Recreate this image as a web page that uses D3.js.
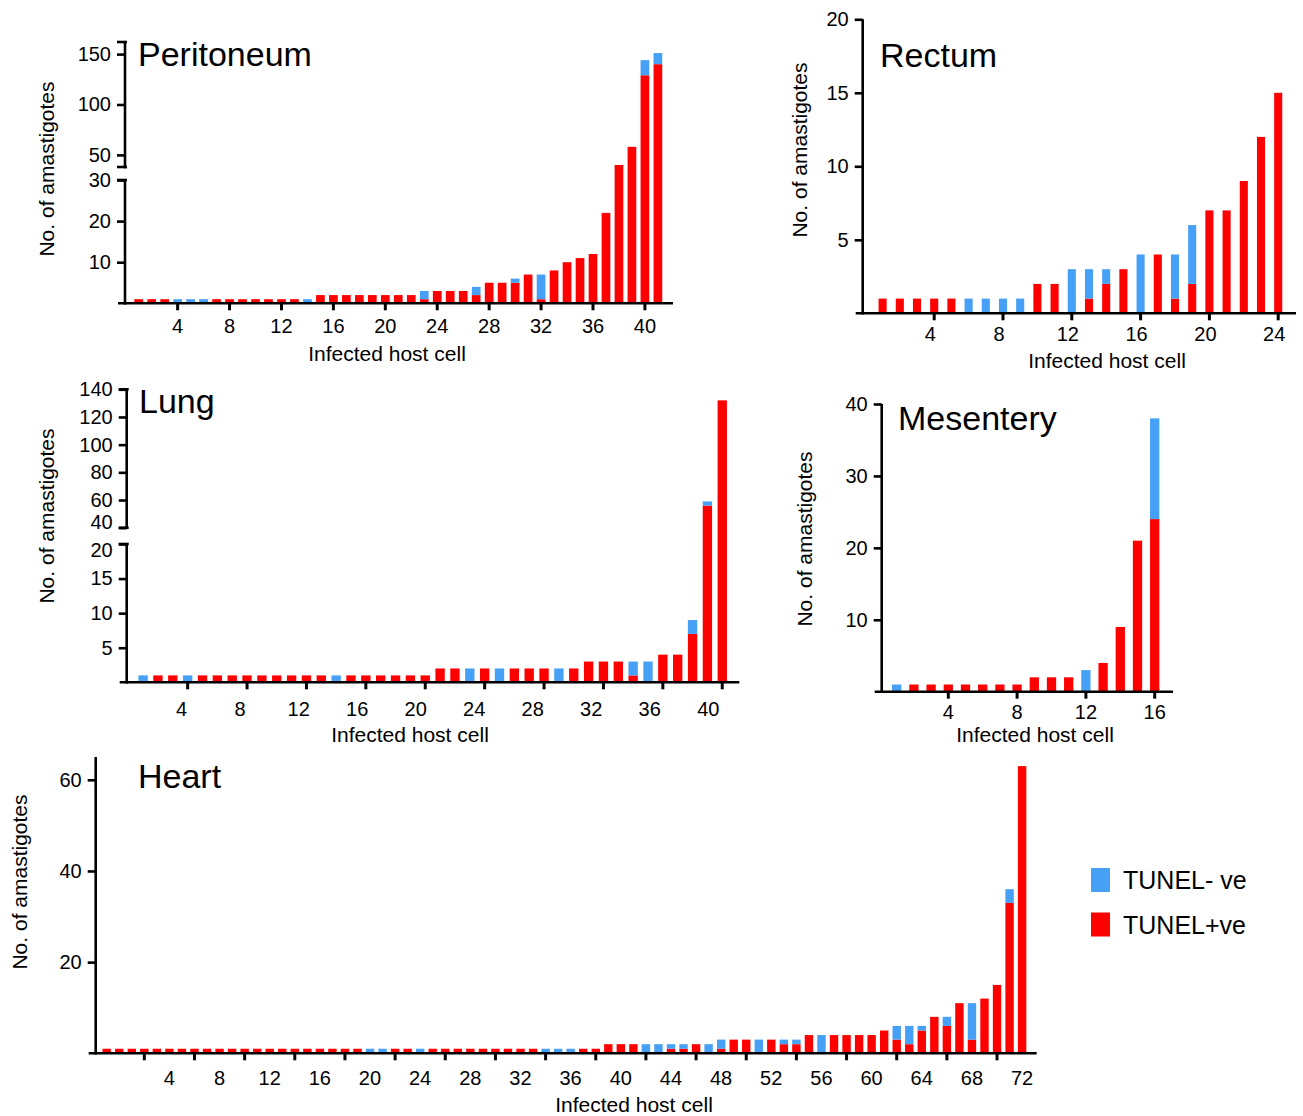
<!DOCTYPE html>
<html>
<head>
<meta charset="utf-8">
<script src="https://cdn.jsdelivr.net/npm/d3@7"></script>
<style>
  body { margin: 0; background: #fff; }
  svg { display: block; font-family: "Liberation Sans", Arial, sans-serif; }
</style>
</head>
<body>
<div id="chart"></div>
<script>
// TUNEL+ve (red) and TUNEL- ve (blue) amastigote counts per infected host cell
const periPos = [1,1,1,0,0,0,1,1,1,1,1,1,1,0,2,2,2,2,2,2,2,2,1,3,3,3,2,5,5,5,7,1,8,10,11,12,22,40,58,129,140];
const periNeg = [0,0,0,1,1,1,0,0,0,0,0,0,0,1,0,0,0,0,0,0,0,0,2,0,0,0,2,0,0,1,0,6,0,0,0,0,0,0,0,15,11];

const rectPos = [1,1,1,1,1,0,0,0,0,2,2,0,1,2,3,0,4,1,2,7,7,9,12,15];
const rectNeg = [0,0,0,0,0,1,1,1,1,0,0,3,2,1,0,4,0,3,4,0,0,0,0,0];

const lungPos = [0,1,1,0,1,1,1,1,1,1,1,1,1,0,1,1,1,1,1,1,2,2,0,2,0,2,2,2,0,2,3,3,3,1,0,4,4,7,56,132];
const lungNeg = [1,0,0,1,0,0,0,0,0,0,0,0,0,1,0,0,0,0,0,0,0,0,2,0,2,0,0,0,2,0,0,0,0,2,3,0,0,2,3,0];

const mesPos = [0,1,1,1,1,1,1,1,2,2,2,0,4,9,21,24];
const mesNeg = [1,0,0,0,0,0,0,0,0,0,0,3,0,0,0,14];

const heartPos = [1,1,1,1,1,1,1,1,1,1,1,1,1,1,1,1,1,1,1,1,1,0,0,1,1,0,1,1,1,1,1,1,1,1,1,0,0,0,1,1,
                  2,2,2,0,0,1,1,2,0,1,3,3,0,3,2,2,4,0,4,4,4,4,5,3,2,5,8,6,11,3,12,15,33,63];
const heartNeg = [0,0,0,0,0,0,0,0,0,0,0,0,0,0,0,0,0,0,0,0,0,1,1,0,0,1,0,0,0,0,0,0,0,0,0,1,1,1,0,0,
                  0,0,0,2,2,1,1,0,2,2,0,0,3,0,1,1,0,4,0,0,0,0,0,3,4,1,0,2,0,8,0,0,3,0];

// tick labels
const periYTicks = [10, 20, 30, 50, 100, 150];
const periXTicks = [4, 8, 12, 16, 20, 24, 28, 32, 36, 40];
const rectYTicks = [5, 10, 15, 20];
const rectXTicks = [4, 8, 12, 16, 20, 24];
const lungYTicks = [5, 10, 15, 20, 40, 60, 80, 100, 120, 140];
const lungXTicks = [4, 8, 12, 16, 20, 24, 28, 32, 36, 40];
const mesYTicks = [10, 20, 30, 40];
const mesXTicks = [4, 8, 12, 16];
const heartYTicks = [20, 40, 60];
const heartXTicks = [4, 8, 12, 16, 20, 24, 28, 32, 36, 40, 44, 48, 52, 56, 60, 64, 68, 72];

const legendKeys = ["neg", "pos"];
const legendNames = {neg: "TUNEL- ve", pos: "TUNEL+ve"};

const color = {pos: "#ff0000", neg: "#46a0f5"};
const AX = 2.6;

const svg = d3.select("#chart").append("svg")
    .attr("width", 1303)
    .attr("height", 1116);

function drawPanel(p) {
    const g = svg.append("g");
    const n = p.pos.length;
    const cells = d3.range(1, n + 1);
    const pad = 1 - p.ratio;

    const x = d3.scaleBand()
        .domain(cells)
        .range([p.first - p.step / 2, p.first + (n - 0.5) * p.step])
        .paddingInner(pad)
        .paddingOuter(pad / 2);
    const y = d3.scaleLinear().domain(p.yDomain).range(p.yRange);

    const rows = cells.map((c, i) => ({cell: c, pos: p.pos[i], neg: p.neg[i]}));
    const series = d3.stack().keys(["pos", "neg"])(rows);

    // bars
    g.append("g")
        .selectAll("g")
        .data(series)
        .join("g")
        .attr("fill", d => color[d.key])
        .selectAll("rect")
        .data(d => d.filter(e => e[1] > e[0]))
        .join("rect")
        .attr("x", d => x(d.data.cell))
        .attr("width", x.bandwidth())
        .attr("y", d => y(d[1]))
        .attr("height", d => y(d[0]) - y(d[1]));

    // x axis
    const base = y(0);
    const xa = g.append("g")
        .attr("transform", `translate(0,${base})`)
        .call(d3.axisBottom(x).tickValues(p.xTicks).tickSize(7).tickSizeOuter(0));
    xa.select(".domain").remove();
    xa.selectAll(".tick line").attr("stroke", "#000").attr("stroke-width", 3);
    xa.selectAll(".tick text")
        .attr("y", p.labelOff)
        .attr("dy", 0)
        .attr("dx", d => p.labelDx(d))
        .attr("fill", "#000")
        .style("font-size", "20px")
        .style("font-family", "'Liberation Sans', Arial, sans-serif");
    g.append("line")
        .attr("x1", p.axisX - 7).attr("x2", p.xEnd)
        .attr("y1", base).attr("y2", base)
        .attr("stroke", "#000").attr("stroke-width", AX);

    // y axis (possibly broken)
    const ya = g.append("g")
        .attr("transform", `translate(${p.axisX},0)`)
        .call(d3.axisLeft(y).tickValues(p.yTicks).tickSize(8).tickPadding(6).tickSizeOuter(0));
    ya.select(".domain").remove();
    ya.selectAll(".tick line").attr("stroke", "#000").attr("stroke-width", AX);
    ya.selectAll(".tick text")
        .attr("fill", "#000")
        .attr("dy", d => (p.yNudge && p.yNudge[d] !== undefined) ? p.yNudge[d] : "0.32em")
        .style("font-size", "20px")
        .style("font-family", "'Liberation Sans', Arial, sans-serif");
    p.segments.forEach(s => {
        g.append("line")
            .attr("x1", p.axisX).attr("x2", p.axisX)
            .attr("y1", y(s[0]) + AX / 2).attr("y2", y(s[1]))
            .attr("stroke", "#000").attr("stroke-width", AX);
        if (p.segments.length > 1) {
            s.filter(v => v > 0).forEach(v => {
                g.append("line")
                    .attr("x1", p.axisX - 8).attr("x2", p.axisX + 2)
                    .attr("y1", y(v)).attr("y2", y(v))
                    .attr("stroke", "#000").attr("stroke-width", AX);
            });
        }
    });

    // title and axis titles
    g.append("text")
        .attr("x", p.title[1]).attr("y", p.title[2])
        .style("font-size", "34px")
        .text(p.title[0]);
    g.append("text")
        .attr("x", p.xLabel[0]).attr("y", p.xLabel[1])
        .attr("text-anchor", "middle")
        .style("font-size", "21px")
        .text("Infected host cell");
    g.append("text")
        .attr("transform", `translate(${p.yLabel[0]},${p.yLabel[1]}) rotate(-90)`)
        .attr("text-anchor", "middle")
        .attr("dy", "0.35em")
        .style("font-size", "21px")
        .text("No. of amastigotes");
}

drawPanel({
    pos: periPos, neg: periNeg, xTicks: periXTicks, yTicks: periYTicks,
    axisX: 125, xEnd: 673, first: 138.7, step: 12.98, ratio: 0.67,
    yDomain: [0, 30, 38, 162], yRange: [303.3, 180, 167, 42],
    segments: [[0, 30], [38, 162]],
    labelOff: 30, labelDx: () => 0,
    title: ["Peritoneum", 138, 66], xLabel: [387, 361], yLabel: [47, 169]
});

drawPanel({
    pos: rectPos, neg: rectNeg, xTicks: rectXTicks, yTicks: rectYTicks,
    axisX: 862.7, xEnd: 1296, first: 882.6, step: 17.2, ratio: 0.47,
    yDomain: [0, 20], yRange: [313.3, 19.3],
    segments: [[0, 20]],
    labelOff: 28, labelDx: () => -4,
    title: ["Rectum", 880, 67], xLabel: [1107, 368], yLabel: [800, 150]
});

drawPanel({
    pos: lungPos, neg: lungNeg, xTicks: lungXTicks, yTicks: lungYTicks,
    axisX: 126.7, xEnd: 739.3, first: 143.1, step: 14.85, ratio: 0.63,
    yDomain: [0, 20, 40, 140], yRange: [682.3, 544, 527.7, 389.3],
    segments: [[0, 20], [40, 140]],
    yNudge: {40: "0.05em", 20: "0.6em"},
    labelOff: 34, labelDx: d3.scaleLinear().domain([4, 40]).range([-6, -14]),
    title: ["Lung", 139, 413], xLabel: [410, 742], yLabel: [47, 516]
});

drawPanel({
    pos: mesPos, neg: mesNeg, xTicks: mesXTicks, yTicks: mesYTicks,
    axisX: 881.7, xEnd: 1173, first: 896.7, step: 17.2, ratio: 0.54,
    yDomain: [0, 40], yRange: [691.7, 404],
    segments: [[0, 40]],
    labelOff: 27, labelDx: () => 0,
    title: ["Mesentery", 898, 430], xLabel: [1035, 742], yLabel: [805, 539]
});

drawPanel({
    pos: heartPos, neg: heartNeg, xTicks: heartXTicks, yTicks: heartYTicks,
    axisX: 95.7, xEnd: 1036.7, first: 106.7, step: 12.54, ratio: 0.67,
    yDomain: [0, 65], yRange: [1053.3, 757],
    segments: [[0, 65]],
    labelOff: 32, labelDx: () => 25,
    title: ["Heart", 138, 788], xLabel: [634, 1112], yLabel: [20, 882]
});

// legend
const legend = svg.append("g")
    .selectAll("g")
    .data(legendKeys)
    .join("g")
    .attr("transform", (d, i) => `translate(1091,${868 + i * 44.5})`);
legend.append("rect")
    .attr("width", 19).attr("height", 24)
    .attr("fill", d => color[d]);
legend.append("text")
    .attr("x", 32).attr("y", 12)
    .attr("dy", "0.36em")
    .style("font-size", "25px")
    .text(d => legendNames[d]);
</script>
</body>
</html>
